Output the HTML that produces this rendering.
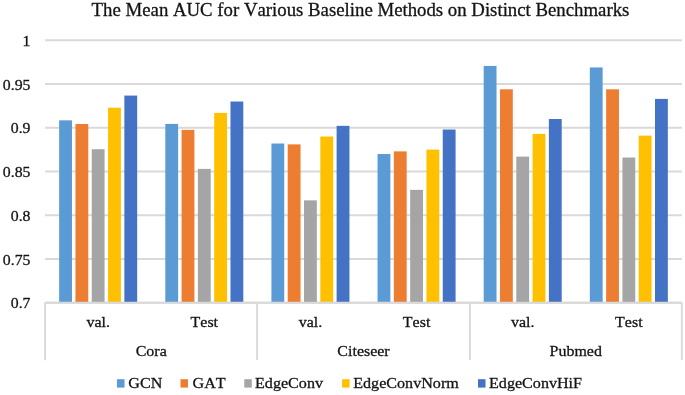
<!DOCTYPE html>
<html><head><meta charset="utf-8"><title>chart</title>
<style>
html,body{margin:0;padding:0;background:#fff;}
svg{display:block;font-kerning:none;font-family:"Liberation Serif",serif;fill:#141414;stroke:#141414;stroke-width:0.3px;}
</style></head><body>
<svg width="685" height="395" viewBox="0 0 685 395">
<rect width="685" height="395" fill="#fff" stroke="none"/>

<line x1="45.1" x2="681.9" y1="40.30" y2="40.30" stroke="#d9d9d9" stroke-width="1.9"/>
<line x1="45.1" x2="681.9" y1="84.03" y2="84.03" stroke="#d9d9d9" stroke-width="1.9"/>
<line x1="45.1" x2="681.9" y1="127.77" y2="127.77" stroke="#d9d9d9" stroke-width="1.9"/>
<line x1="45.1" x2="681.9" y1="171.50" y2="171.50" stroke="#d9d9d9" stroke-width="1.9"/>
<line x1="45.1" x2="681.9" y1="215.23" y2="215.23" stroke="#d9d9d9" stroke-width="1.9"/>
<line x1="45.1" x2="681.9" y1="258.97" y2="258.97" stroke="#d9d9d9" stroke-width="1.9"/>
<line x1="45.1" x2="681.9" y1="302.70" y2="302.70" stroke="#d9d9d9" stroke-width="1.9"/>
<rect x="59.15" y="120.33" width="12.83" height="182.37" fill="#5b9bd5" stroke="none"/>
<rect x="75.45" y="124.01" width="12.83" height="178.69" fill="#ed7d31" stroke="none"/>
<rect x="91.75" y="149.20" width="12.83" height="153.50" fill="#a5a5a5" stroke="none"/>
<rect x="108.05" y="107.65" width="12.83" height="195.05" fill="#ffc000" stroke="none"/>
<rect x="124.35" y="95.58" width="12.83" height="207.12" fill="#4472c4" stroke="none"/>
<rect x="165.29" y="123.92" width="12.83" height="178.78" fill="#5b9bd5" stroke="none"/>
<rect x="181.58" y="129.87" width="12.83" height="172.83" fill="#ed7d31" stroke="none"/>
<rect x="197.88" y="168.88" width="12.83" height="133.82" fill="#a5a5a5" stroke="none"/>
<rect x="214.18" y="112.90" width="12.83" height="189.80" fill="#ffc000" stroke="none"/>
<rect x="230.48" y="101.53" width="12.83" height="201.17" fill="#4472c4" stroke="none"/>
<rect x="271.42" y="143.51" width="12.83" height="159.19" fill="#5b9bd5" stroke="none"/>
<rect x="287.72" y="144.39" width="12.83" height="158.31" fill="#ed7d31" stroke="none"/>
<rect x="304.02" y="200.36" width="12.83" height="102.34" fill="#a5a5a5" stroke="none"/>
<rect x="320.32" y="136.51" width="12.83" height="166.19" fill="#ffc000" stroke="none"/>
<rect x="336.61" y="125.84" width="12.83" height="176.86" fill="#4472c4" stroke="none"/>
<rect x="377.55" y="154.01" width="12.83" height="148.69" fill="#5b9bd5" stroke="none"/>
<rect x="393.85" y="151.38" width="12.83" height="151.32" fill="#ed7d31" stroke="none"/>
<rect x="410.15" y="189.87" width="12.83" height="112.83" fill="#a5a5a5" stroke="none"/>
<rect x="426.45" y="149.63" width="12.83" height="153.07" fill="#ffc000" stroke="none"/>
<rect x="442.75" y="129.52" width="12.83" height="173.18" fill="#4472c4" stroke="none"/>
<rect x="483.69" y="65.93" width="12.83" height="236.77" fill="#5b9bd5" stroke="none"/>
<rect x="499.98" y="89.28" width="12.83" height="213.42" fill="#ed7d31" stroke="none"/>
<rect x="516.28" y="156.63" width="12.83" height="146.07" fill="#a5a5a5" stroke="none"/>
<rect x="532.58" y="133.89" width="12.83" height="168.81" fill="#ffc000" stroke="none"/>
<rect x="548.88" y="119.02" width="12.83" height="183.68" fill="#4472c4" stroke="none"/>
<rect x="589.82" y="67.41" width="12.83" height="235.29" fill="#5b9bd5" stroke="none"/>
<rect x="606.12" y="89.28" width="12.83" height="213.42" fill="#ed7d31" stroke="none"/>
<rect x="622.42" y="157.51" width="12.83" height="145.19" fill="#a5a5a5" stroke="none"/>
<rect x="638.72" y="135.64" width="12.83" height="167.06" fill="#ffc000" stroke="none"/>
<rect x="655.01" y="98.90" width="12.83" height="203.80" fill="#4472c4" stroke="none"/>
<line x1="45.1" x2="681.9" y1="302.7" y2="302.7" stroke="#d9d9d9" stroke-width="1.9"/>
<line x1="45.10" x2="45.10" y1="302.7" y2="360.2" stroke="#d9d9d9" stroke-width="1.9"/>
<line x1="257.10" x2="257.10" y1="302.7" y2="360.2" stroke="#d9d9d9" stroke-width="1.9"/>
<line x1="469.90" x2="469.90" y1="302.7" y2="360.2" stroke="#d9d9d9" stroke-width="1.9"/>
<line x1="681.80" x2="681.80" y1="302.7" y2="360.2" stroke="#d9d9d9" stroke-width="1.9"/>
<text transform="translate(30.50,46.00) scale(1.04,1)" font-size="15.2" text-anchor="end">1</text>
<text transform="translate(30.50,89.73) scale(1.04,1)" font-size="15.2" text-anchor="end">0.95</text>
<text transform="translate(30.50,133.47) scale(1.04,1)" font-size="15.2" text-anchor="end">0.9</text>
<text transform="translate(30.50,177.20) scale(1.04,1)" font-size="15.2" text-anchor="end">0.85</text>
<text transform="translate(30.50,220.93) scale(1.04,1)" font-size="15.2" text-anchor="end">0.8</text>
<text transform="translate(30.50,264.67) scale(1.04,1)" font-size="15.2" text-anchor="end">0.75</text>
<text transform="translate(30.50,308.40) scale(1.04,1)" font-size="15.2" text-anchor="end">0.7</text>
<text transform="translate(98.17,326.60) scale(1.05,1)" font-size="15.2" text-anchor="middle">val.</text>
<text transform="translate(204.30,326.60) scale(1.05,1)" font-size="15.2" text-anchor="middle">Test</text>
<text transform="translate(310.43,326.60) scale(1.05,1)" font-size="15.2" text-anchor="middle">val.</text>
<text transform="translate(416.57,326.60) scale(1.05,1)" font-size="15.2" text-anchor="middle">Test</text>
<text transform="translate(522.70,326.60) scale(1.05,1)" font-size="15.2" text-anchor="middle">val.</text>
<text transform="translate(628.83,326.60) scale(1.05,1)" font-size="15.2" text-anchor="middle">Test</text>
<text transform="translate(151.23,356.00) scale(1.05,1)" font-size="15.2" text-anchor="middle">Cora</text>
<text transform="translate(363.50,356.00) scale(1.05,1)" font-size="15.2" text-anchor="middle">Citeseer</text>
<text transform="translate(575.77,356.00) scale(1.05,1)" font-size="15.2" text-anchor="middle">Pubmed</text>
<text transform="translate(360.50,16.20) scale(1.0,1)" font-size="18.8" text-anchor="middle">The Mean AUC for Various Baseline Methods on Distinct Benchmarks</text>
<rect x="117" y="379.2" width="7.5" height="8.4" fill="#5b9bd5" stroke="none"/>
<text transform="translate(128.30,388.40) scale(1.06,1)" font-size="15.2" text-anchor="start">GCN</text>
<rect x="180.5" y="379.2" width="7.5" height="8.4" fill="#ed7d31" stroke="none"/>
<text transform="translate(192.60,388.40) scale(1.06,1)" font-size="15.2" text-anchor="start">GAT</text>
<rect x="244.3" y="379.2" width="7.5" height="8.4" fill="#a5a5a5" stroke="none"/>
<text transform="translate(255.00,388.40) scale(1.06,1)" font-size="15.2" text-anchor="start">EdgeConv</text>
<rect x="342.1" y="379.2" width="7.5" height="8.4" fill="#ffc000" stroke="none"/>
<text transform="translate(353.20,388.40) scale(1.06,1)" font-size="15.2" text-anchor="start">EdgeConvNorm</text>
<rect x="478" y="379.2" width="7.5" height="8.4" fill="#4472c4" stroke="none"/>
<text transform="translate(489.00,388.40) scale(1.06,1)" font-size="15.2" text-anchor="start">EdgeConvHiF</text>
</svg></body></html>
